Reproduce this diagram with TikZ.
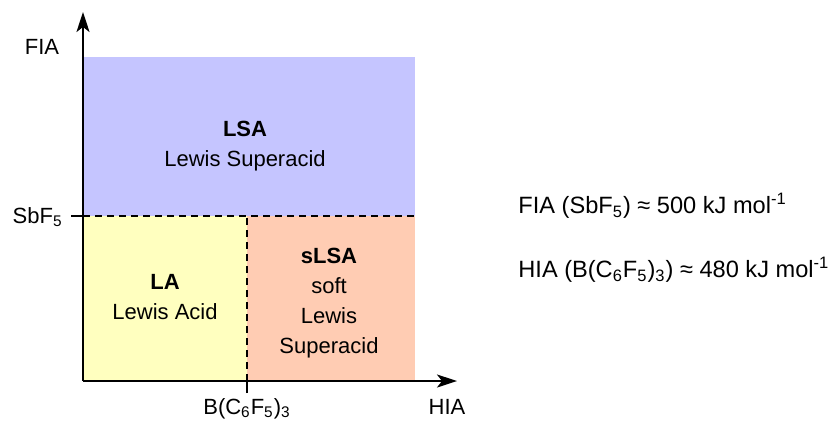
\documentclass[tikz,border=0pt]{standalone}
\usepackage{fontspec}
\setmainfont{Liberation Sans}
\usetikzlibrary{arrows.meta, positioning}
\definecolor{lsablue}{RGB}{197,197,255}
\definecolor{layellow}{RGB}{255,255,191}
\definecolor{slsaorange}{RGB}{255,204,179}

\begin{document}
\begin{tikzpicture}[x=0.5pt, y=-0.5pt]
		\tikzstyle{Label} = [font=\fontsize{11}{15}\selectfont, align=center, inner sep=0pt]
		\tikzstyle{Value} = [font=\fontsize{11.8}{15}\selectfont, anchor=west, inner sep=0pt]
		\tikzstyle{arrow} = [line width=1pt,->,>={Stealth[length=10pt,width=6.5pt,inset=2.5pt]}]
		\tikzstyle{Dash} = [line width=0.7pt, dash pattern=on 3.5pt off 2.5pt]
		\useasboundingbox (0,0) rectangle (833,425);
		
		% regions
		\fill [lsablue] (83, 57) rectangle (415, 216);
		\fill [layellow] (83, 216) rectangle (247, 381);
		\fill [slsaorange] (247, 216) rectangle (415, 381);
		
		% axes
		\coordinate (O) at (83, 381);
		\coordinate (ytop) at (83, 12);
		\coordinate (xend) at (457, 381);
		\draw [arrow] (O) -- (ytop);
		\draw [arrow] (O) -- (xend);
		
		% ticks and dashed limits
		\coordinate (sbl) at (71, 216);
		\coordinate (sba) at (83, 216);
		\coordinate (sbr) at (415, 216);
		\coordinate (bbot) at (247, 393);
		\coordinate (ba) at (247, 381);
		\coordinate (bt) at (247, 216);
		\draw [line width=0.8pt] (sbl) -- (sba);
		\draw [Dash] (sba) -- (sbr);
		\draw [line width=0.8pt] (bbot) -- (ba);
		\draw [Dash] (ba) -- (bt);
		
		% axis labels
		\node (fia) [Label] at (42, 47) {FIA};
		\node (sbf) [Label, anchor=east] at (63, 217) {SbF\textsubscript{5}};
		\node (bcf) [Label] at (247, 409) {B(C\textsubscript{6}F\textsubscript{5})\textsubscript{3}};
		\node (hia) [Label] at (447, 407) {HIA};
		
		% region labels
		\node (lsa) [Label] at (245, 146) {\textbf{LSA}\\Lewis Superacid};
		\node (la) [Label] at (165, 297) {\textbf{LA}\\Lewis Acid};
		\node (slsa) [Label] at (329, 303) {\textbf{sLSA}\\soft\\Lewis\\Superacid};
		
		% values
		\node (fiaval) [Value] at (518, 206) {FIA (SbF\textsubscript{5}) ≈ 500 kJ mol\textsuperscript{-1}};
		\node (hiaval) [Value] at (518, 270) {HIA (B(C\textsubscript{6}F\textsubscript{5})\textsubscript{3}) ≈ 480 kJ mol\textsuperscript{-1}};
\end{tikzpicture}
\end{document}
